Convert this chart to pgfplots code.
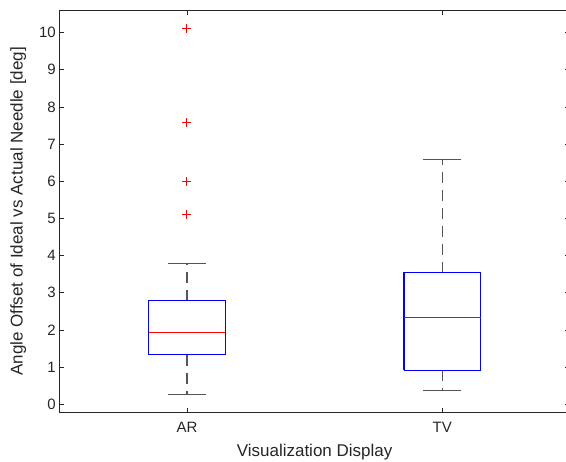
\documentclass[border=0pt]{standalone}
\usepackage{pgfplots}
\pgfplotsset{compat=1.18}
\usepackage{fontspec}
\setmainfont{Liberation Sans}
\definecolor{axgray}{RGB}{38,38,38}
\definecolor{whisk}{RGB}{85,85,85}
\definecolor{mred}{RGB}{255,0,0}
\definecolor{mblue}{RGB}{0,0,255}
\begin{document}
\begin{tikzpicture}
\useasboundingbox (-59.3pt,-49.3pt) rectangle (506.7pt,412.7pt);
\begin{axis}[
  at={(0,0)}, anchor=south west,
  scale only axis,
  width=510.6pt, height=402.7pt,
  xmin=0.5, xmax=2.5,
  ymin=-0.226, ymax=10.61,
  xtick={1,2}, xticklabels={AR,TV},
  ytick={0,1,2,3,4,5,6,7,8,9,10},
  tick align=inside,
  major tick length=5pt,
  tick pos=both,
  axis line style={axgray, line width=0.8pt},
  every tick/.style={axgray, line width=0.8pt},
  tick label style={font=\fontsize{15}{17}\selectfont, text=axgray},
  /pgf/number format/assume math mode=true,
  label style={font=\fontsize{17}{20}\selectfont, text=axgray},
  xticklabel style={yshift=-6pt},
  xlabel={Visualization Display},
  ylabel={Angle Offset of Ideal vs Actual Needle [deg]},
  xlabel style={yshift=-5pt},
  ylabel style={yshift=6pt},
  clip=false,
]
% whiskers (dashed)
\addplot[draw=whisk, line width=1.2pt, dash pattern=on 11pt off 7pt] coordinates {(1,2.79) (1,3.78)};
\addplot[draw=whisk, line width=1.2pt, dash pattern=on 11pt off 7pt] coordinates {(1,1.33) (1,0.26)};
\addplot[draw=whisk, line width=1.2pt, dash pattern=on 11pt off 7pt] coordinates {(2,3.54) (2,6.58)};
\addplot[draw=whisk, line width=1.2pt, dash pattern=on 11pt off 7pt] coordinates {(2,0.92) (2,0.37)};
% caps
\addplot[draw=whisk, line width=1.2pt] coordinates {(0.926,3.78) (1.074,3.78)};
\addplot[draw=whisk, line width=1.2pt] coordinates {(0.926,0.26) (1.074,0.26)};
\addplot[draw=whisk, line width=1.2pt] coordinates {(1.926,6.58) (2.074,6.58)};
\addplot[draw=whisk, line width=1.2pt] coordinates {(1.926,0.37) (2.074,0.37)};
% boxes
\addplot[draw=mblue, line width=1.1pt] coordinates {(0.85,1.33) (1.15,1.33) (1.15,2.79) (0.85,2.79) (0.85,1.33)};
\addplot[draw=mblue, line width=1.1pt] coordinates {(1.85,0.92) (2.15,0.92) (2.15,3.54) (1.85,3.54) (1.85,0.92)};
% medians
\addplot[color=mred, line width=1.1pt] coordinates {(0.85,1.94) (1.15,1.94)};
\addplot[color=mred, line width=1.1pt] coordinates {(1.85,2.34) (2.15,2.34)};
% AR outliers
\addplot[only marks, mark=+, color=mred, mark size=4.5pt, mark options={draw=mred, solid, line width=1pt}] coordinates {(1,10.11) (1,7.57) (1,5.99) (1,5.10)};
\end{axis}
\end{tikzpicture}
\end{document}
